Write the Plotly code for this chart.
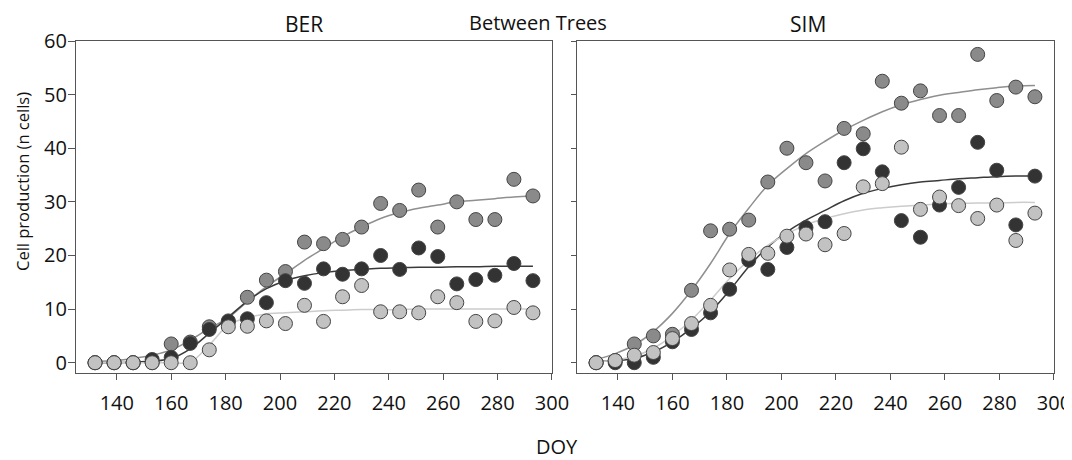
import plotly.graph_objects as go

doy = [132, 139, 146, 153, 160, 167, 174, 181, 188, 195, 202, 209, 216, 223,
       230, 237, 244, 251, 258, 265, 272, 279, 286, 293]

# BER observed
ber_mid = [0, 0, 0, 0, 3.5, 3.85, 6.7, 7.6, 12.2, 15.4, 17.0, 22.5, 22.2, 23.0,
           25.3, 29.7, 28.4, 32.2, 25.3, 30.0, 26.7, 26.7, 34.2, 31.1]
ber_dark = [0, 0, 0, 0.6, 1.0, 3.6, 6.2, 7.8, 8.2, 11.2, 15.3, 14.8, 17.5, 16.5,
            17.5, 20.0, 17.4, 21.4, 19.8, 14.7, 15.5, 16.3, 18.5, 15.3]
ber_light = [0, 0, 0, 0, 0, 0, 2.4, 6.7, 6.8, 7.8, 7.3, 10.7, 7.7, 12.3,
             14.4, 9.5, 9.5, 9.3, 12.3, 11.2, 7.7, 7.8, 10.3, 9.3]
# BER fitted curves (read at the same DOY)
ber_mid_fit = [0.2, 0.4, 0.8, 1.4, 2.4, 4.2, 6.4, 8.4, 11.4, 14.2, 16.6, 19.1, 21.3, 23.5,
               25.3, 26.9, 28.0, 28.8, 29.4, 30.0, 30.3, 30.6, 30.9, 31.1]
ber_dark_fit = [0.0, 0.0, 0.1, 0.3, 0.8, 2.6, 5.5, 8.5, 11.5, 13.8, 15.3, 16.2, 16.8, 17.2,
                17.4, 17.6, 17.7, 17.8, 17.8, 17.9, 17.9, 18.0, 18.0, 18.0]
ber_light_fit = [0, 0, 0, 0, 0, 0.1, 3.3, 7.0, 8.4, 9.1, 9.3, 9.5, 9.7, 9.8,
                 9.9, 9.9, 9.9, 10.0, 10.0, 10.0, 10.0, 10.0, 10.0, 10.0]

# SIM observed
sim_mid = [0, 0.4, 3.5, 5.0, 5.3, 13.5, 24.6, 24.9, 26.6, 33.7, 40.0, 37.3, 33.9, 43.7,
           42.7, 52.5, 48.4, 50.7, 46.1, 46.1, 57.5, 48.9, 51.4, 49.6]
sim_dark = [0, 0, 0, 1.0, 3.9, 6.2, 9.3, 13.7, 19.1, 17.4, 21.5, 25.2, 26.3, 37.3,
            39.9, 35.6, 26.5, 23.4, 29.4, 32.7, 41.1, 35.9, 25.7, 34.8]
sim_light = [0, 0.4, 1.4, 1.9, 4.5, 7.3, 10.7, 17.3, 20.2, 20.4, 23.6, 24.0, 22.0, 24.1,
             32.8, 33.4, 40.2, 28.6, 30.9, 29.3, 26.9, 29.4, 22.8, 27.9]
# SIM fitted curves
sim_mid_fit = [0.6, 1.7, 3.3, 5.8, 9.2, 13.5, 18.5, 24.1, 28.8, 33.1, 36.2, 39.0, 41.3, 43.4,
               45.2, 46.8, 48.1, 49.1, 49.9, 50.4, 50.9, 51.3, 51.6, 51.7]
sim_dark_fit = [0.2, 0.4, 0.8, 2.0, 3.9, 6.4, 9.5, 13.5, 17.9, 21.6, 24.4, 26.6, 28.4, 30.2,
                31.6, 32.5, 33.2, 33.7, 34.0, 34.3, 34.5, 34.7, 34.8, 34.8]
sim_light_fit = [0.1, 0.5, 1.2, 2.7, 5.0, 8.0, 11.7, 15.7, 19.1, 21.9, 24.0, 25.7, 26.9, 27.8,
                 28.5, 28.9, 29.2, 29.4, 29.6, 29.7, 29.8, 29.8, 29.9, 29.9]

x_ticks = [140, 160, 180, 200, 220, 240, 260, 280, 300]
y_ticks = [0, 10, 20, 30, 40, 50, 60]

MID, DARK, LIGHT = "#8a8a8a", "#333333", "#c2c2c2"
LMID, LDARK, LLIGHT = "#8f8f8f", "#3a3a3a", "#cccccc"
FONT = "Open Sans"

fig = go.Figure()

panels = [
    ("x", "y", (ber_mid, ber_dark, ber_light), (ber_mid_fit, ber_dark_fit, ber_light_fit)),
    ("x2", "y2", (sim_mid, sim_dark, sim_light), (sim_mid_fit, sim_dark_fit, sim_light_fit)),
]
for xa, ya, obs, fits in panels:
    for fit, lc in zip(fits, (LMID, LDARK, LLIGHT)):
        fig.add_trace(go.Scatter(x=doy, y=fit, mode="lines", xaxis=xa, yaxis=ya,
                                 line=dict(color=lc, width=1.5, shape="spline"),
                                 showlegend=False, hoverinfo="skip"))
    for vals, fc in zip(obs, (MID, DARK, LIGHT)):
        fig.add_trace(go.Scatter(x=doy, y=vals, mode="markers", xaxis=xa, yaxis=ya,
                                 marker=dict(size=14, color=fc,
                                             line=dict(color="#444444", width=1)),
                                 showlegend=False))

axis_common = dict(showline=True, linecolor="#555555", linewidth=1.2, mirror=True,
                   showgrid=False, zeroline=False, ticks="outside",
                   tickcolor="#555555", tickwidth=1.2, automargin=False)

# The page body adds an 8px offset; the figure is sized so the plot lands
# where the reference has it inside the 1072x460 window.
OFF = 8
fig.update_layout(
    width=1072 - OFF, height=460 - OFF,
    margin=dict(l=76 - OFF, r=18, t=41 - OFF, b=87),
    paper_bgcolor="white", plot_bgcolor="white",
    font=dict(family=FONT, color="#111111", size=20),
    xaxis=dict(domain=[0, 0.4867], range=[125, 300], tickvals=x_ticks, ticklen=6,
               ticklabelstandoff=6, **axis_common),
    xaxis2=dict(domain=[0.5123, 1], range=[125, 300], tickvals=x_ticks, ticklen=6,
                ticklabelstandoff=6, **axis_common),
    yaxis=dict(range=[-1.92, 60], tickvals=y_ticks, anchor="x", ticklen=7,
               ticklabelstandoff=-3, **axis_common),
    yaxis2=dict(range=[-1.92, 60], tickvals=y_ticks, anchor="x2", ticklen=5,
                showticklabels=False, **axis_common),
)

W, H, L, B = 978, 332, 76, 373
def px(xp):
    return (xp - L) / W
def py(yp):
    return (B - yp) / H

ann = [
    ("BER", 304, 24, 0, 21),
    ("SIM", 808, 24, 0, 21),
    ("Between Trees", 538, 22.5, 0, 20),
    ("DOY", 557, 446, 0, 20),
    ("Cell production (n cells)", 23, 182, -90, 16.5),
]
for text, x, y, ang, sz in ann:
    fig.add_annotation(text=text, xref="paper", yref="paper", x=px(x), y=py(y),
                       xanchor="center", yanchor="middle", showarrow=False,
                       textangle=ang, font=dict(family=FONT, size=sz, color="#111111"))

fig.write_html("out.html")
